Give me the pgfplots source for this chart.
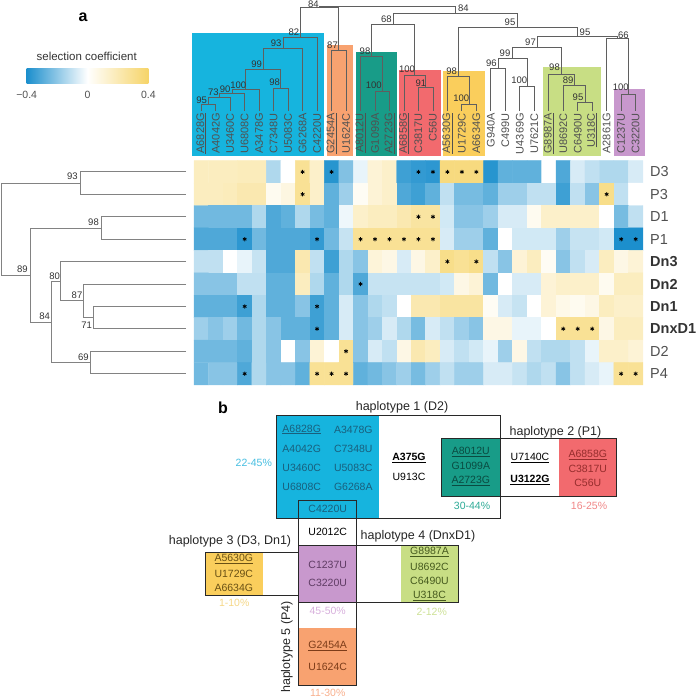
\documentclass[border=0pt]{standalone}
\usepackage{pgfplots}
\pgfplotsset{compat=1.18}
\usepackage{fontspec}
\setmainfont{Liberation Sans}
\definecolor{cyanB}{RGB}{22,180,222}
\definecolor{orangeB}{RGB}{248,162,112}
\definecolor{tealB}{RGB}{24,156,136}
\definecolor{redB}{RGB}{242,106,110}
\definecolor{yellowB}{RGB}{250,206,92}
\definecolor{greenB}{RGB}{200,222,132}
\definecolor{purpleB}{RGB}{200,152,205}
\definecolor{hmBlue}{RGB}{28,143,205}
\definecolor{hmYellow}{RGB}{246,212,104}
\definecolor{dgray}{RGB}{95,95,95}
\definecolor{lgray}{RGB}{130,130,130}
\definecolor{lbl}{RGB}{80,80,80}
\definecolor{boxline}{RGB}{40,40,40}
\definecolor{tCyan}{RGB}{25,95,125}
\definecolor{tTeal}{RGB}{10,75,65}
\definecolor{tRed}{RGB}{150,45,45}
\definecolor{tYellow}{RGB}{105,80,20}
\definecolor{tGreen}{RGB}{70,90,30}
\definecolor{tPurple}{RGB}{95,60,100}
\definecolor{tOrange}{RGB}{125,60,25}
\definecolor{pCyan}{RGB}{70,190,225}
\definecolor{pTeal}{RGB}{45,170,150}
\definecolor{pRed}{RGB}{240,135,135}
\definecolor{pYellow}{RGB}{245,215,135}
\definecolor{pPurple}{RGB}{215,175,220}
\definecolor{pGreen}{RGB}{205,225,150}
\definecolor{pOrange}{RGB}{248,175,140}
\newcommand{\fs}[1]{\fontsize{#1pt}{#1pt}\selectfont}
\pgfplotsset{dend/.style={color=dgray, line width=0.85pt, mark=none, forget plot},
             dendL/.style={color=lgray, line width=0.8pt, mark=none, forget plot}}
\tikzset{
  collbl/.style={rotate=90, anchor=east, inner sep=0pt, text=lbl, font=\fs{11}},
  dnum/.style={inner sep=0pt, text=black!80, font=\fs{9.5}},
  rowlbl/.style={anchor=west, inner sep=0pt, text=lbl, font=\fs{14.5}},
  btxt/.style={inner sep=0pt, font=\fs{10.5}},
  htxt/.style={inner sep=0pt, font=\fs{12.5}, text=black!85},
  box/.style={draw=boxline, line width=0.9pt},
}
\begin{document}
\begin{tikzpicture}
\useasboundingbox (0,0) rectangle (696pt,700pt);
\begin{axis}[
  at={(0,0)}, anchor=south west,
  x=1pt, y=1pt, y dir=reverse,
  xmin=0, xmax=696, ymin=0, ymax=700,
  hide axis, clip=false,
  colormap={hm}{rgb255=(28,143,205) rgb255=(255,255,255) rgb255=(246,212,104)},
  point meta min=-0.4, point meta max=0.4,
]
% ---------- top colour blocks
\fill[cyanB] (192,33) rectangle (324.3,156);
\fill[orangeB] (326.5,45) rectangle (353.3,156);
\fill[tealB] (355.5,51.7) rectangle (397,156);
\fill[redB] (399,70) rectangle (440.5,156);
\fill[yellowB] (443,70.7) rectangle (485,156);
\fill[greenB] (543,67.3) rectangle (601,156);
\fill[purpleB] (614.3,89) rectangle (644.5,156);
% ---------- top dendrogram
\addplot[dend] coordinates {(201.24,111) (201.24,104.5) (215.72,104.5) (215.72,111)};
\addplot[dend] coordinates {(208.48,104.5) (208.48,97) (230.2,97) (230.2,111)};
\addplot[dend] coordinates {(219.34,97) (219.34,93.5) (244.68,93.5) (244.68,111)};
\addplot[dend] coordinates {(232.01,93.5) (232.01,89.5) (259.16,89.5) (259.16,111)};
\addplot[dend] coordinates {(273.64,111) (273.64,88.5) (288.12,88.5) (288.12,111)};
\addplot[dend] coordinates {(245.59,89.5) (245.59,69.5) (280.88,69.5) (280.88,88.5)};
\addplot[dend] coordinates {(263.24,69.5) (263.24,48.3) (302.6,48.3) (302.6,111)};
\addplot[dend] coordinates {(282.92,48.3) (282.92,37.3) (317.08,37.3) (317.08,111)};
\addplot[dend] coordinates {(331.56,111) (331.56,50) (346.04,50) (346.04,111)};
\addplot[dend] coordinates {(300,37.3) (300,7) (338.8,7) (338.8,50)};
\addplot[dend] coordinates {(375,111) (375,91) (389.48,91) (389.48,111)};
\addplot[dend] coordinates {(360.52,111) (360.52,56.7) (382.24,56.7) (382.24,91)};
\addplot[dend] coordinates {(418.44,111) (418.44,87.5) (432.92,87.5) (432.92,111)};
\addplot[dend] coordinates {(403.96,111) (403.96,75) (425.68,75) (425.68,87.5)};
\addplot[dend] coordinates {(371.38,56.7) (371.38,24) (414.82,24) (414.82,75)};
\addplot[dend] coordinates {(461.88,111) (461.88,104) (476.36,104) (476.36,111)};
\addplot[dend] coordinates {(447.4,111) (447.4,76.7) (469.12,76.7) (469.12,104)};
\addplot[dend] coordinates {(490.84,111) (490.84,68.3) (505.32,68.3) (505.32,111)};
\addplot[dend] coordinates {(519.8,111) (519.8,86) (534.28,86) (534.28,111)};
\addplot[dend] coordinates {(498.08,68.3) (498.08,58.3) (527.04,58.3) (527.04,86)};
\addplot[dend] coordinates {(577.72,111) (577.72,102.7) (592.2,102.7) (592.2,111)};
\addplot[dend] coordinates {(563.24,111) (563.24,85) (584.96,85) (584.96,102.7)};
\addplot[dend] coordinates {(548.76,111) (548.76,74) (574.1,74) (574.1,85)};
\addplot[dend] coordinates {(512.56,58.3) (512.56,47.3) (561.43,47.3) (561.43,74)};
\addplot[dend] coordinates {(621.16,111) (621.16,94.3) (635.64,94.3) (635.64,111)};
\addplot[dend] coordinates {(606.68,111) (606.68,38.3) (628.4,38.3) (628.4,94.3)};
\addplot[dend] coordinates {(537,47.3) (537,36.7) (617.54,36.7) (617.54,38.3)};
\addplot[dend] coordinates {(458.26,76.7) (458.26,27) (577.27,27) (577.27,36.7)};
\addplot[dend] coordinates {(393.1,24) (393.1,13.3) (517.77,13.3) (517.77,27)};
\addplot[dend] coordinates {(319.4,7) (319.4,6.5) (455.43,6.5) (455.43,13.3)};
% top dendrogram numbers
\node[dnum] at (201.7,100) {95};
\node[dnum] at (213.3,92.7) {73};
\node[dnum] at (225.2,89.3) {90};
\node[dnum] at (238.3,85) {100};
\node[dnum] at (274.7,82.7) {98};
\node[dnum] at (256.7,64) {99};
\node[dnum] at (276.2,43.3) {93};
\node[dnum] at (293.8,32.3) {82};
\node[dnum] at (332.5,45.7) {87};
\node[dnum] at (313.3,4.3) {84};
\node[dnum] at (365,51.7) {98};
\node[dnum] at (373.7,85.7) {100};
\node[dnum] at (386.3,19.3) {68};
\node[dnum] at (407,69.3) {100};
\node[dnum] at (420.8,83.3) {91};
\node[dnum] at (463.3,8.3) {84};
\node[dnum] at (510,22.7) {95};
\node[dnum] at (585,32.3) {95};
\node[dnum] at (623.3,35) {66};
\node[dnum] at (530.5,42.3) {97};
\node[dnum] at (505,53.3) {99};
\node[dnum] at (491.3,63.3) {96};
\node[dnum] at (519.3,80.7) {100};
\node[dnum] at (451.7,71) {98};
\node[dnum] at (461.2,98.3) {100};
\node[dnum] at (554.5,67.7) {98};
\node[dnum] at (568.2,80) {89};
\node[dnum] at (578,97.7) {95};
\node[dnum] at (620.8,87.3) {100};
% column labels
\node[collbl] at (201.24,113) {\underline{A6828G}};
\node[collbl] at (215.72,113) {A4042G};
\node[collbl] at (230.20,113) {U3460C};
\node[collbl] at (244.68,113) {U6808C};
\node[collbl] at (259.16,113) {A3478G};
\node[collbl] at (273.64,113) {C7348U};
\node[collbl] at (288.12,113) {U5083C};
\node[collbl] at (302.60,113) {G6268A};
\node[collbl] at (317.08,113) {C4220U};
\node[collbl] at (331.56,113) {\underline{G2454A}};
\node[collbl] at (346.04,113) {U1624C};
\node[collbl] at (360.52,113) {\underline{A8012U}};
\node[collbl] at (375.00,113) {G1099A};
\node[collbl] at (389.48,113) {\underline{A2723G}};
\node[collbl] at (403.96,113) {\underline{A6858G}};
\node[collbl] at (418.44,113) {C3817U};
\node[collbl] at (432.92,113) {C56U};
\node[collbl] at (447.40,113) {\underline{A5630G}};
\node[collbl] at (461.88,113) {U1729C};
\node[collbl] at (476.36,113) {A6634G};
\node[collbl] at (490.84,113) {G940A};
\node[collbl] at (505.32,113) {C499U};
\node[collbl] at (519.80,113) {U4369G};
\node[collbl] at (534.28,113) {U7621C};
\node[collbl] at (548.76,113) {\underline{G8987A}};
\node[collbl] at (563.24,113) {U8692C};
\node[collbl] at (577.72,113) {C6490U};
\node[collbl] at (592.20,113) {\underline{U318C}};
\node[collbl] at (606.68,113) {A2861G};
\node[collbl] at (621.16,113) {C1237U};
\node[collbl] at (635.64,113) {C3220U};
% ---------- heatmap
\addplot[matrix plot*, mesh/cols=31, point meta=explicit, forget plot]
 table[row sep=\\, meta=v,
  x expr={201.24+14.48*mod(\coordindex,31)},
  y expr={171.9+22.42*(\coordindex-mod(\coordindex,31))/31}] {
v\\
0.17\\ 0.17\\ 0.17\\ 0.18\\ 0.18\\ -0.14\\ 0.00\\ 0.28\\ 0.14\\ -0.38\\ -0.22\\ -0.04\\ 0.11\\ 0.14\\ -0.34\\ -0.36\\ -0.37\\ 0.34\\ 0.34\\ 0.34\\ -0.38\\ -0.28\\ -0.28\\ -0.28\\ 0.00\\ -0.31\\ -0.07\\ -0.11\\ -0.14\\ -0.14\\ -0.07\\
0.17\\ 0.17\\ 0.18\\ 0.21\\ 0.21\\ 0.04\\ 0.08\\ 0.28\\ 0.14\\ -0.28\\ -0.17\\ 0.03\\ 0.11\\ 0.14\\ -0.31\\ -0.34\\ -0.28\\ -0.11\\ -0.24\\ -0.24\\ -0.28\\ -0.17\\ -0.17\\ -0.11\\ -0.11\\ -0.34\\ -0.11\\ -0.21\\ 0.31\\ -0.11\\ 0.00\\
-0.25\\ -0.25\\ -0.25\\ -0.25\\ -0.14\\ -0.31\\ -0.28\\ -0.14\\ -0.24\\ -0.28\\ -0.03\\ 0.14\\ 0.17\\ 0.17\\ 0.21\\ 0.25\\ 0.25\\ -0.08\\ -0.21\\ -0.21\\ -0.17\\ -0.07\\ -0.07\\ 0.04\\ 0.14\\ 0.14\\ 0.14\\ 0.14\\ 0.00\\ -0.24\\ -0.11\\
-0.31\\ -0.31\\ -0.31\\ -0.37\\ -0.25\\ -0.31\\ -0.31\\ -0.31\\ -0.36\\ -0.25\\ -0.10\\ 0.28\\ 0.28\\ 0.28\\ 0.28\\ 0.28\\ 0.28\\ -0.07\\ -0.17\\ -0.17\\ -0.28\\ 0.00\\ -0.08\\ -0.08\\ -0.08\\ -0.17\\ -0.10\\ -0.10\\ -0.08\\ -0.40\\ -0.40\\
-0.11\\ -0.11\\ 0.00\\ -0.04\\ -0.10\\ -0.31\\ -0.31\\ 0.21\\ -0.11\\ -0.34\\ -0.14\\ -0.21\\ 0.10\\ 0.07\\ -0.07\\ 0.07\\ 0.14\\ 0.31\\ 0.28\\ 0.31\\ -0.11\\ -0.21\\ 0.11\\ 0.17\\ 0.03\\ -0.21\\ -0.11\\ -0.07\\ 0.17\\ 0.07\\ 0.11\\
-0.21\\ -0.21\\ -0.21\\ -0.11\\ -0.11\\ -0.28\\ -0.28\\ 0.17\\ -0.14\\ -0.28\\ -0.14\\ -0.31\\ -0.10\\ -0.10\\ -0.10\\ -0.10\\ -0.10\\ -0.08\\ 0.07\\ 0.11\\ -0.25\\ 0.00\\ -0.07\\ -0.07\\ 0.11\\ 0.14\\ 0.14\\ 0.14\\ 0.04\\ 0.17\\ 0.17\\
-0.28\\ -0.28\\ -0.28\\ -0.34\\ -0.14\\ -0.28\\ -0.28\\ -0.21\\ -0.34\\ -0.28\\ -0.07\\ -0.21\\ -0.14\\ -0.11\\ 0.00\\ 0.21\\ 0.21\\ 0.25\\ 0.25\\ 0.25\\ 0.03\\ -0.07\\ -0.10\\ 0.00\\ 0.11\\ 0.06\\ 0.04\\ 0.07\\ 0.17\\ 0.14\\ 0.14\\
-0.17\\ -0.21\\ -0.17\\ -0.25\\ -0.14\\ -0.21\\ -0.28\\ -0.28\\ -0.34\\ -0.28\\ -0.07\\ -0.21\\ -0.17\\ -0.07\\ -0.14\\ -0.24\\ -0.07\\ -0.11\\ -0.17\\ -0.21\\ 0.07\\ 0.07\\ -0.04\\ -0.04\\ 0.00\\ 0.28\\ 0.28\\ 0.28\\ 0.07\\ 0.17\\ 0.17\\
-0.25\\ -0.25\\ -0.25\\ -0.28\\ -0.14\\ -0.21\\ 0.00\\ -0.21\\ 0.11\\ 0.00\\ 0.28\\ -0.21\\ -0.07\\ -0.11\\ 0.07\\ 0.21\\ 0.17\\ -0.07\\ -0.11\\ -0.08\\ -0.04\\ -0.17\\ 0.07\\ -0.11\\ -0.14\\ -0.14\\ -0.11\\ -0.04\\ 0.14\\ 0.14\\ 0.11\\
-0.25\\ -0.21\\ -0.21\\ -0.31\\ -0.14\\ -0.21\\ -0.21\\ -0.28\\ 0.28\\ 0.28\\ 0.28\\ -0.28\\ -0.25\\ -0.21\\ -0.17\\ -0.24\\ -0.17\\ -0.11\\ -0.17\\ -0.17\\ -0.07\\ -0.07\\ -0.10\\ -0.14\\ -0.11\\ -0.21\\ -0.11\\ -0.07\\ -0.04\\ 0.28\\ 0.28\\
};
% significance stars
\addplot[only marks, mark=asterisk, mark size=2.1pt, mark options={black, line width=0.75pt}, forget plot]
 table[row sep=\\, x expr={201.24+14.48*\thisrow{c}}, y expr={171.9+22.42*\thisrow{r}}] {
c r\\
7 0\\ 9 0\\ 15 0\\ 16 0\\ 17 0\\ 18 0\\ 19 0\\
7 1\\ 28 1\\
15 2\\ 16 2\\
3 3\\ 8 3\\ 11 3\\ 12 3\\ 13 3\\ 14 3\\ 15 3\\ 16 3\\ 29 3\\ 30 3\\
17 4\\ 19 4\\
11 5\\
3 6\\ 8 6\\
8 7\\ 25 7\\ 26 7\\ 27 7\\
10 8\\
3 9\\ 8 9\\ 9 9\\ 10 9\\ 29 9\\ 30 9\\
};
% row labels
\node[rowlbl] at (650,171.9) {D3};
\node[rowlbl] at (650,194.3) {P3};
\node[rowlbl] at (650,216.7) {D1};
\node[rowlbl] at (650,239.2) {P1};
\node[rowlbl, text=black!80] at (650,261.6) {\textbf{Dn3}};
\node[rowlbl, text=black!80] at (650,284.0) {\textbf{Dn2}};
\node[rowlbl, text=black!80] at (650,306.4) {\textbf{Dn1}};
\node[rowlbl, text=black!80] at (650,328.8) {\textbf{DnxD1}};
\node[rowlbl] at (650,351.3) {D2};
\node[rowlbl] at (650,373.7) {P4};
% ---------- left dendrogram
\addplot[dendL] coordinates {(186,171.9) (80.7,171.9) (80.7,194.3) (186,194.3)};
\addplot[dendL] coordinates {(186,216.7) (101.3,216.7) (101.3,239.2) (186,239.2)};
\addplot[dendL] coordinates {(186,306.4) (93.3,306.4) (93.3,328.8) (186,328.8)};
\addplot[dendL] coordinates {(186,284.0) (83.3,284.0) (83.3,317.6) (93.3,317.6)};
\addplot[dendL] coordinates {(186,261.6) (60.3,261.6) (60.3,300.8) (83.3,300.8)};
\addplot[dendL] coordinates {(186,351.3) (90.3,351.3) (90.3,373.7) (186,373.7)};
\addplot[dendL] coordinates {(60.3,281.2) (51,281.2) (51,362.5) (90.3,362.5)};
\addplot[dendL] coordinates {(101.3,228.0) (30,228.0) (30,321.9) (51,321.9)};
\addplot[dendL] coordinates {(80.7,183.1) (1,183.1) (1,275.0) (30,275.0)};
\node[dnum] at (72.5,176.7) {93};
\node[dnum] at (93.5,222.3) {98};
\node[dnum] at (22.3,269) {89};
\node[dnum] at (54.7,276) {80};
\node[dnum] at (77,295) {87};
\node[dnum] at (86.7,325.3) {71};
\node[dnum] at (44.7,316.7) {84};
\node[dnum] at (83.3,357.3) {69};
% ---------- panel letters and colour bar
\node[inner sep=0pt, font=\fs{16}\bfseries] at (83,17) {a};
\node[inner sep=0pt, font=\fs{16}\bfseries] at (223,408) {b};
\node[inner sep=0pt, font=\fs{11.5}, text=black!80] at (86.7,56) {selection coefficient};
\shade[left color=hmBlue, right color=hmYellow, middle color=white] (26.7,68.3) rectangle (148.3,84);
\node[inner sep=0pt, font=\fs{10.5}, text=lbl] at (26.7,95) {−0.4};
\node[inner sep=0pt, font=\fs{10.5}, text=lbl] at (87.5,95) {0};
\node[inner sep=0pt, font=\fs{10.5}, text=lbl] at (148.3,95) {0.4};
% ---------- panel b boxes
\fill[cyanB] (276,415) rectangle (379.3,518.3);
\fill[tealB] (441.7,438.3) rectangle (500,496.7);
\fill[redB] (559,438.3) rectangle (616.7,496.7);
\fill[purpleB] (298.7,545) rectangle (356.7,602.7);
\fill[orangeB] (298.7,628.3) rectangle (356.7,685);
\fill[yellowB] (205,552.3) rectangle (262.7,595);
\fill[greenB] (400.7,545.7) rectangle (458.3,602.7);
\draw[box] (276,415) rectangle (500,518.3);
\draw[box] (441.7,438.3) rectangle (616.7,496.7);
\draw[box] (298.7,500) rectangle (356.7,685);
\draw[box] (205,552.3) rectangle (298.7,595);
\draw[box] (356.7,545) rectangle (458.3,602.7);
\draw[box] (298.7,545) rectangle (356.7,602.7);
% haplotype titles
\node[htxt] at (402,407) {haplotype 1 (D2)};
\node[htxt] at (555.5,432) {haplotype 2 (P1)};
\node[htxt] at (230,541.5) {haplotype 3 (D3, Dn1)};
\node[htxt] at (418,536) {haplotype 4 (DnxD1)};
\node[htxt, rotate=90] at (287,647) {haplotype 5 (P4)};
% cyan box
\node[btxt, text=tCyan] at (301.7,429.5) {\underline{A6828G}};
\node[btxt, text=tCyan] at (301.7,448.5) {A4042G};
\node[btxt, text=tCyan] at (301.7,467.5) {U3460C};
\node[btxt, text=tCyan] at (301.7,487) {U6808C};
\node[btxt, text=tCyan] at (353.3,429.5) {A3478G};
\node[btxt, text=tCyan] at (353.3,448.5) {C7348U};
\node[btxt, text=tCyan] at (353.3,467.5) {U5083C};
\node[btxt, text=tCyan] at (353.3,487) {G6268A};
\node[btxt, text=tCyan] at (327.7,509.3) {C4220U};
\node[btxt, text=pCyan] at (253.8,462.7) {22-45\%};
\node[btxt, text=black] at (409,458.3) {\textbf{\underline{A375G}}};
\node[btxt, text=black] at (409,476.7) {U913C};
% teal / red
\node[btxt, text=tTeal] at (470.8,451.7) {\underline{A8012U}};
\node[btxt, text=tTeal] at (470.8,466) {G1099A};
\node[btxt, text=tTeal] at (470.8,481) {\underline{A2723G}};
\node[btxt, text=pTeal] at (472,506) {30-44\%};
\node[btxt, text=black] at (530,458.3) {\underline{U7140C}};
\node[btxt, text=black] at (530,480) {\textbf{\underline{U3122G}}};
\node[btxt, text=tRed] at (587.8,455) {\underline{A6858G}};
\node[btxt, text=tRed] at (587.8,469) {C3817U};
\node[btxt, text=tRed] at (587.8,482.7) {C56U};
\node[btxt, text=pRed] at (589,506) {16-25\%};
% haplotype 5 column
\node[btxt, text=black] at (327.7,531.7) {U2012C};
\node[btxt, text=tPurple] at (327.7,565) {C1237U};
\node[btxt, text=tPurple] at (327.7,582.7) {C3220U};
\node[btxt, text=pPurple] at (327.7,610.7) {45-50\%};
\node[btxt, text=tOrange] at (327.7,646) {\underline{G2454A}};
\node[btxt, text=tOrange] at (327.7,667.3) {U1624C};
\node[btxt, text=pOrange] at (327.7,693.3) {11-30\%};
% yellow
\node[btxt, text=tYellow] at (233.8,559.3) {\underline{A5630G}};
\node[btxt, text=tYellow] at (233.8,574) {U1729C};
\node[btxt, text=tYellow] at (233.8,588.3) {A6634G};
\node[btxt, text=pYellow] at (234.2,603.3) {1-10\%};
% green
\node[btxt, text=tGreen] at (429.5,551.7) {\underline{G8987A}};
\node[btxt, text=tGreen] at (429.5,566.7) {U8692C};
\node[btxt, text=tGreen] at (429.5,581) {C6490U};
\node[btxt, text=tGreen] at (429.5,595.7) {\underline{U318C}};
\node[btxt, text=pGreen] at (431.7,611.7) {2-12\%};
\end{axis}
\end{tikzpicture}
\end{document}
